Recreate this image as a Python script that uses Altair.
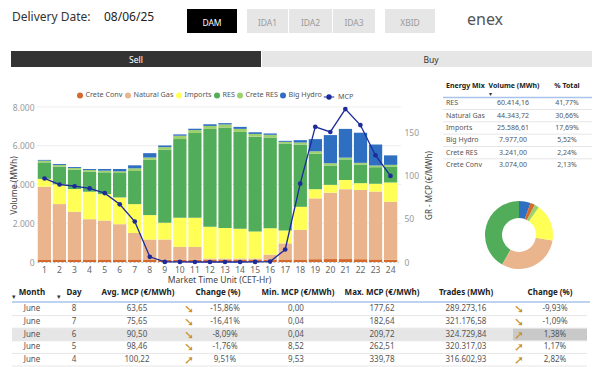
import altair as alt
import pandas as pd

FONT = "Noto Sans"
W, H = 584, 359

# ---------------- data ----------------
hours = list(range(1, 25))
crete_conv = [130, 130, 130, 130, 130, 130, 130, 130, 120, 120, 120, 120,
              120, 120, 120, 120, 130, 130, 145, 150, 150, 145, 135, 125]
natural_gas = [3760, 2860, 2460, 2080, 2010, 1820, 1370, 1030, 1040, 660, 660, 60,
               60, 60, 60, 260, 830, 1530, 3140, 3430, 3610, 3575, 3500, 2985]
imports_ = [400, 1020, 1175, 1417, 1365, 1382, 1487, 1261, 864, 1503, 1503, 1641,
            1572, 1537, 1397, 1363, 664, 1188, 472, 402, 472, 349, 402, 995]
res = [850, 915, 1000, 1037, 1123, 1261, 1710, 2851, 3767, 4061, 4372, 5046,
       5188, 4996, 4892, 4682, 4490, 3214, 1834, 996, 1065, 961, 856, 822]
crete_res = [90, 85, 85, 86, 86, 87, 138, 121, 138, 173, 155, 156,
             158, 158, 140, 140, 87, 105, 123, 122, 88, 88, 87, 87]
big_hydro = [40, 50, 50, 50, 87, 121, 156, 225, 86, 69, 69, 86,
             70, 104, 87, 70, 52, 122, 629, 1450, 1485, 1555, 1083, 489]
mcp = [97, 90, 88, 85.5, 80, 67, 47, 6, 0.1, 0.05, 0.01, 0,
       0, 0.01, 0.05, 0.5, 14.5, 91, 157, 151, 177.62, 159, 124, 100]

series_names = ["Crete Conv", "Natural Gas", "Imports", "RES", "Crete RES", "Big Hydro"]
series_colors = ["#D5682B", "#EAB58C", "#FFFF55", "#52AD5B", "#9ED06C", "#2F6FC2"]
series_values = [crete_conv, natural_gas, imports_, res, crete_res, big_hydro]
NAVY = "#1C2A9A"

mix_names = ["RES", "Natural Gas", "Imports", "Big Hydro", "Crete RES", "Crete Conv"]
mix_volume = [60414.16, 44343.72, 25586.61, 7977.00, 3241.00, 3074.00]
mix_pct = [41.77, 30.66, 17.69, 5.52, 2.24, 2.13]

months = ["June", "June", "June", "June", "June"]
days = [8, 7, 6, 5, 4]
avg_mcp = [63.65, 75.65, 90.50, 98.46, 100.22]
avg_change = [-15.86, -16.41, -8.09, -1.76, 9.51]
min_mcp = [0.00, 0.04, 0.04, 8.52, 9.53]
max_mcp = [177.62, 182.64, 209.72, 262.51, 339.78]
trades = [289273.16, 321176.58, 324729.84, 320317.03, 316602.93]
trades_change = [-9.93, -1.09, 1.38, 1.17, 2.82]

buttons = ["DAM", "IDA1", "IDA2", "IDA3", "XBID"]


def de(v):
    s = f"{v:,.2f}"
    return s.replace(",", "X").replace(".", ",").replace("X", ".")


# ---------------- frames ----------------
rows = []
for k, (name, vals) in enumerate(zip(series_names, series_values)):
    for h, v in zip(hours, vals):
        rows.append({"hour": h, "series": name, "k": k, "value": v})
df_bars = pd.DataFrame(rows)
df_mcp = pd.DataFrame({"hour": hours, "mcp": mcp, "lbl": ["MCP"] * 24})
df_grid = pd.DataFrame({"v": [2000, 4000, 6000, 8000]})

df_mix = pd.DataFrame({
    "name": mix_names, "vol": mix_volume,
    "vol_txt": [de(v) for v in mix_volume],
    "pct_txt": [de(p) + "%" for p in mix_pct],
    "row": list(range(1, len(mix_names) + 1)),
})

arrow = lambda v: "\u2798" if v < 0 else "\u279A"
df_days = pd.DataFrame({
    "row": list(range(1, 6)),
    "month": months, "day": [str(d) for d in days],
    "avg": [de(v) for v in avg_mcp],
    "a1": [arrow(v) for v in avg_change],
    "chg": [de(v) + "%" for v in avg_change],
    "mn": [de(v) for v in min_mcp],
    "mx": [de(v) for v in max_mcp],
    "tr": [de(v) for v in trades],
    "a2": [arrow(v) for v in trades_change],
    "chg2": [de(v) + "%" for v in trades_change],
})

one = pd.DataFrame({"k": [0]})


def txt(s, x, y, size=9, color="#333", weight="normal", align="left", baseline="middle"):
    return alt.Chart(one).mark_text(text=s, align=align, baseline=baseline, fontSize=size,
                                    color=color, fontWeight=weight, font=FONT).encode(
        x=alt.value(x), y=alt.value(y))


def box(x1, x2, y1, y2, color):
    return alt.Chart(one).mark_rect(color=color).encode(
        x=alt.value(x1), x2=alt.value(x2), y=alt.value(y1), y2=alt.value(y2))


def hline(x1, x2, y, color, w=1.0):
    return alt.Chart(one).mark_rule(color=color, strokeWidth=w).encode(
        x=alt.value(x1), x2=alt.value(x2), y=alt.value(y))


layers = []

# ---------------- header ----------------
layers.append(txt("Delivery Date:", 4, 12.5, size=12, color="#333", baseline="alphabetic"))
layers.append(txt("08/06/25", 96, 12.5, size=12, color="#222", baseline="alphabetic"))
btn_pos = [(179, 229), (239, 280), (281, 324), (325, 367), (377, 427)]
for i, (b, (x1, x2)) in enumerate(zip(buttons, btn_pos)):
    layers.append(box(x1, x2, 1, 25, "#000000" if i == 0 else "#E6E6E6"))
    layers.append(txt(b, (x1 + x2) / 2, 15, size=8.5, color="#FFFFFF" if i == 0 else "#9A9A9A",
                      align="center"))
layers.append(txt("enex", 459, 12, size=16, color="#555555"))

# sell / buy
layers.append(box(3, 253, 43, 59, "#333333"))
layers.append(box(254, W, 43, 59, "#E6E6E6"))
layers.append(txt("Sell", 128, 51.5, size=8.5, color="#FFFFFF", align="center"))
layers.append(txt("Buy", 423, 51.5, size=8.5, color="#333333", align="center"))

# ---------------- main chart ----------------
xs = alt.Scale(domain=hours, range=[29, 390], paddingInner=0.12, paddingOuter=0.05)
yL = alt.Scale(domain=[0, 8000], range=[254, 99], nice=False)
yR = alt.Scale(domain=[0, 180], range=[254, 99], nice=False)

layers.append(alt.Chart(df_grid).mark_rule(color="#EDEDED", strokeWidth=1).encode(
    y=alt.Y("v:Q", scale=yL, axis=None), x=alt.value(29), x2=alt.value(393)))

bars = alt.Chart(df_bars).mark_bar().encode(
    x=alt.X("hour:O", scale=xs, axis=alt.Axis(
        orient="bottom", offset=254 - H, labelAngle=0, labelFontSize=8.5, labelColor="#666666",
        labelPadding=3, ticks=False, domain=True, domainColor="#BBBBBB", domainDash=[2, 2],
        title="Market Time Unit (CET-Hr)", titleFontSize=8.5, titleFontWeight="normal",
        titleColor="#444444", titleX=211, titleY=17, titleBaseline="middle")),
    y=alt.Y("value:Q", stack="zero", scale=yL, axis=alt.Axis(
        orient="left", offset=-29, values=[0, 2000, 4000, 6000, 8000],
        labelExpr="replace(format(datum.value, ','), ',', '.')",
        labelFontSize=8.5, labelColor="#999999", labelPadding=3, ticks=False, domain=False,
        grid=False, title="Volume (MWh)", titleFontSize=8.5, titleFontWeight="normal",
        titleColor="#444444", titleX=-24, titleY=177, titleAngle=-90, titleBaseline="middle")),
    color=alt.Color("series:N", scale=alt.Scale(domain=series_names, range=series_colors),
                    legend=alt.Legend(orient="none", legendX=68, legendY=83, direction="horizontal",
                                      columns=6, title=None, symbolType="circle", symbolSize=36,
                                      labelFontSize=7.2, labelColor="#555555", labelFont=FONT,
                                      columnPadding=1, labelOffset=1.5, padding=0)),
    order=alt.Order("k:Q", sort="ascending"),
)
layers.append(bars)

line = alt.Chart(df_mcp).mark_line(color=NAVY, strokeWidth=1.3).encode(
    x=alt.X("hour:O", scale=xs, axis=None),
    y=alt.Y("mcp:Q", scale=yR, axis=alt.Axis(
        orient="right", offset=393 - W, values=[0, 50, 100, 150], labelFontSize=8.5,
        labelColor="#999999", labelPadding=3, ticks=False, domain=False, grid=False,
        title="GR - MCP (€/MWh)", titleFontSize=8, titleFontWeight="normal", titleColor="#444444",
        titleX=28, titleY=177, titleAngle=-90, titleBaseline="middle")),
)
layers.append(line)

points = alt.Chart(df_mcp).mark_circle(size=22, opacity=1).encode(
    x=alt.X("hour:O", scale=xs, axis=None),
    y=alt.Y("mcp:Q", scale=yR, axis=None),
    color=alt.Color("lbl:N", scale=alt.Scale(domain=["MCP"], range=[NAVY]),
                    legend=alt.Legend(orient="none", legendX=315, legendY=83, title=None,
                                      symbolType="M-1,0L1,0M0.4,0A0.4,0.4,0,1,1,-0.4,0A0.4,0.4,0,1,1,0.4,0Z",
                                      symbolSize=110, symbolStrokeColor=NAVY, symbolStrokeWidth=1.2,
                                      symbolFillColor=NAVY, labelFontSize=7.2, labelColor="#555555",
                                      labelFont=FONT, labelOffset=3, padding=0)),
)
layers.append(points)

# ---------------- energy mix table ----------------
layers.append(txt("Energy Mix", 438, 78, size=7, color="#222", weight="bold"))
layers.append(txt("Volume (MWh)", 506, 78, size=7, color="#222", weight="bold", align="center"))
layers.append(txt("% Total", 559, 78, size=7, color="#222", weight="bold", align="center"))
layers.append(txt("\u25BE", 482, 85.5, size=6, color="#333", align="center"))
layers.append(hline(435, W, 89.5, "#A9C4EB", 1.5))
ymix = alt.Scale(domain=[1, 6], range=[95.3, 157], nice=False, zero=False)
layers.append(alt.Chart(df_mix).transform_filter("datum.row < 6").transform_calculate(
    sep="datum.row + 0.5").mark_rule(color="#E6E6E6").encode(
    y=alt.Y("sep:Q", scale=ymix, axis=None), x=alt.value(435), x2=alt.value(W)))
for field, x, al in [("name", 438, "left"), ("vol_txt", 505, "center"), ("pct_txt", 559, "center")]:
    layers.append(alt.Chart(df_mix).mark_text(align=al, baseline="middle", fontSize=7,
                                              color="#555555", font=FONT).encode(
        x=alt.value(x), y=alt.Y("row:Q", scale=ymix, axis=None), text=f"{field}:N"))

# donut
layers.append(alt.Chart(df_mix).mark_arc(innerRadius=17, outerRadius=34).encode(
    theta=alt.Theta("vol:Q", stack=True),
    color=alt.Color("name:N", scale=alt.Scale(domain=series_names, range=series_colors), legend=None),
    order=alt.Order("name:N", sort="ascending"),
    x=alt.value(511), y=alt.value(227)))

# ---------------- daily table ----------------
yday = alt.Scale(domain=[1, 5], range=[301.3, 351.7], nice=False, zero=False)
layers.append(alt.Chart(df_days).transform_filter("datum.row == 3").transform_calculate(
    a="datum.row - 0.5", b="datum.row + 0.5").mark_rect(color="#E6E6E6").encode(
    y=alt.Y("a:Q", scale=yday, axis=None), y2="b:Q", x=alt.value(4), x2=alt.value(579)))
layers.append(alt.Chart(df_days).transform_filter("datum.row == 3").transform_calculate(
    a="datum.row - 0.5", b="datum.row + 0.5").mark_rect(color="#C9C9C9").encode(
    y=alt.Y("a:Q", scale=yday, axis=None), y2="b:Q", x=alt.value(505), x2=alt.value(579)))
layers.append(alt.Chart(df_days).transform_calculate(sep="datum.row + 0.5").mark_rule(
    color="#E6E6E6").encode(y=alt.Y("sep:Q", scale=yday, axis=None), x=alt.value(4), x2=alt.value(579)))

heads = [("Month", 24), ("Day", 66), ("Avg. MCP (€/MWh)", 130), ("Change (%)", 210),
         ("Min. MCP (€/MWh)", 290), ("Max. MCP (€/MWh)", 374), ("Trades (MWh)", 458),
         ("Change (%)", 542)]
for h, x in heads:
    layers.append(txt(h, x, 285, size=8, color="#222", weight="bold", align="center"))
layers.append(txt("\u25BE", 6, 289, size=6.5, color="#333", align="center"))
layers.append(txt("\u25BE", 51, 289, size=6.5, color="#333", align="center"))
layers.append(hline(4, 582, 294, "#A9C4EB", 1.5))

cols = [("month", 24), ("day", 66), ("avg", 129), ("chg", 217), ("mn", 288), ("mx", 374),
        ("tr", 458), ("chg2", 547)]
for field, x in cols:
    layers.append(alt.Chart(df_days).mark_text(align="center", baseline="middle", fontSize=8,
                                               color="#555555", font=FONT).encode(
        x=alt.value(x), y=alt.Y("row:Q", scale=yday, axis=None), text=f"{field}:N"))
for field, x in [("a1", 181), ("a2", 511)]:
    layers.append(alt.Chart(df_days).mark_text(align="center", baseline="middle", fontSize=12,
                                               color="#C8902E", font="DejaVu Sans").encode(
        x=alt.value(x), y=alt.Y("row:Q", scale=yday, axis=None), text=f"{field}:N"))

chart = alt.layer(*layers).resolve_scale(
    x="independent", y="independent", color="independent"
).properties(
    width=W, height=H, padding=0, autosize=alt.AutoSizeParams(type="none")
).configure(font=FONT).configure_view(stroke=None)

chart.save("out.html", embed_options={"renderer": "svg", "actions": False})
